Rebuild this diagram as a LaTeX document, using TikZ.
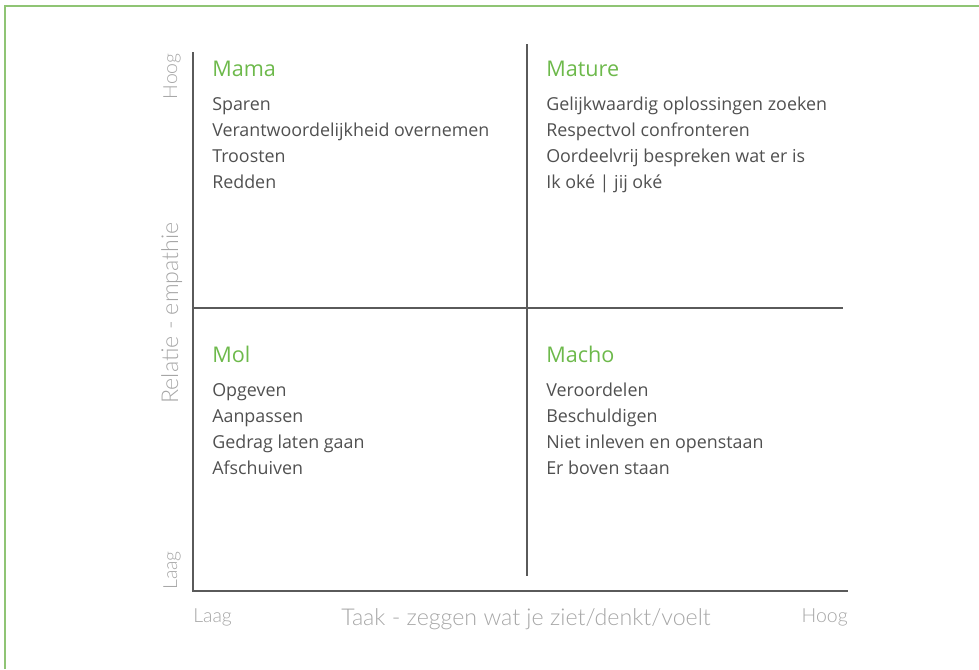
\documentclass[tikz,border=0pt]{standalone}
\usepackage{fontspec}
\setmainfont{Open Sans}
\newfontfamily\thinfont{Lato Light}

\definecolor{leaf}{HTML}{6DB94B}
\definecolor{frame}{HTML}{8FC474}
\definecolor{ink}{HTML}{505050}
\definecolor{axis}{HTML}{5A5A5A}
\definecolor{faint}{HTML}{A6A6A6}

\tikzset{
  head/.style={anchor=base west, inner sep=0pt, text=leaf, font=\fontsize{16.2}{18}\selectfont},
  item/.style={anchor=base west, inner sep=0pt, text=ink, font=\fontsize{13.4}{15}\selectfont},
  scale label/.style={inner sep=0pt, text=faint, font=\thinfont\fontsize{14.6}{16}\selectfont},
  axis title/.style={inner sep=0pt, text=faint, font=\thinfont\fontsize{17.4}{19}\selectfont},
  rule/.style={axis, line width=1.1pt},
}

\begin{document}
\begin{tikzpicture}[x=0.75pt,y=-0.75pt]
\useasboundingbox (0,0) rectangle (979,669);
% green frame, top and left only
\draw[frame, line width=1.6pt] (5,669) -- (5,6) -- (979,6);

% axes and the cross
\coordinate (o) at (193,591);
\coordinate (ytop) at (193,52);
\coordinate (xend) at (848,591);
\coordinate (vtop) at (527,44);
\coordinate (vbot) at (527,576);
\coordinate (hl) at (193,308);
\coordinate (hr) at (843,308);
\draw[rule] (ytop) -- (o) -- (xend);
\draw[rule] (vtop) -- (vbot);
\draw[rule] (hl) -- (hr);

% axis labels
\node[scale label, anchor=base west] (xlow) at (193,622) {Laag};
\node[scale label, anchor=base east] (xhigh) at (848,622) {Hoog};
\node[axis title, anchor=base] (xtitle) at (526,625) {Taak - zeggen wat je ziet/denkt/voelt};
\node[scale label, rotate=90, anchor=base west] (ylow) at (177,590) {Laag};
\node[scale label, rotate=90, anchor=base east] (yhigh) at (177,53) {Hoog};
\node[axis title, rotate=90, anchor=base] (ytitle) at (178,313) {Relatie - empathie};

% quadrants
\node[head] (mama) at (212,76) {Mama};
\foreach \t [count=\i from 0] in {Sparen, Verantwoordelijkheid overnemen, Troosten, Redden}
  \node[item] (mama-\i) at (212,110+26*\i) {\t};

\node[head] (mature) at (546,76) {Mature};
\foreach \t [count=\i from 0] in {Gelijkwaardig oplossingen zoeken, Respectvol confronteren, Oordeelvrij bespreken wat er is, Ik oké | jij oké}
  \node[item] (mature-\i) at (546,110+26*\i) {\t};

\node[head] (mol) at (212,362) {Mol};
\foreach \t [count=\i from 0] in {Opgeven, Aanpassen, Gedrag laten gaan, Afschuiven}
  \node[item] (mol-\i) at (212,396+26*\i) {\t};

\node[head] (macho) at (546,362) {Macho};
\foreach \t [count=\i from 0] in {Veroordelen, Beschuldigen, Niet inleven en openstaan, Er boven staan}
  \node[item] (macho-\i) at (546,396+26*\i) {\t};
\end{tikzpicture}
\end{document}
